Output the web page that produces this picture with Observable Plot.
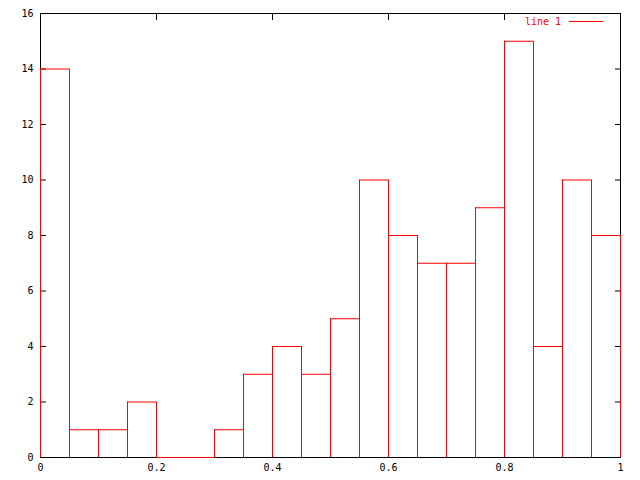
<!DOCTYPE html>
<html>
<head>
<meta charset="utf-8">
<script src="https://cdn.jsdelivr.net/npm/d3@7"></script>
<script src="https://cdn.jsdelivr.net/npm/@observablehq/plot@0.6"></script>
<style>
  html, body { margin: 0; padding: 0; background: #fff; }
  #wrap { position: relative; width: 640px; height: 480px; }
  #legend { position: absolute; left: 525px; top: 16px; font: 10px "DejaVu Sans Mono", monospace; color: #f00; display: flex; align-items: center; }
  #legend span.sample { display: inline-block; width: 34px; height: 0; border-top: 1px solid #f00; margin-left: 8px; }
</style>
</head>
<body>
<div id="wrap"><div id="legend"><span>line 1</span><span class="sample"></span></div></div>
<script>
const binStarts = [0, 0.05, 0.1, 0.15, 0.2, 0.25, 0.3, 0.35, 0.4, 0.45, 0.5, 0.55, 0.6, 0.65, 0.7, 0.75, 0.8, 0.85, 0.9, 0.95];
const binWidth = 0.05;
const counts = [14, 1, 1, 2, 0, 0, 1, 3, 4, 3, 5, 10, 8, 7, 7, 9, 15, 4, 10, 8];
const xTicks = [0, 0.2, 0.4, 0.6, 0.8, 1];
const yTicks = [0, 2, 4, 6, 8, 10, 12, 14, 16];
const seriesName = "line 1";

const bins = binStarts.map((x0, i) => ({x0, x1: x0 + binWidth, y: counts[i]}));

const chart = Plot.plot({
  width: 640,
  height: 480,
  marginLeft: 40,
  marginRight: 20,
  marginTop: 13,
  marginBottom: 23,
  style: {fontFamily: "'DejaVu Sans Mono', monospace", fontSize: "10px", color: "#000", background: "#fff"},
  x: {domain: [0, 1]},
  y: {domain: [0, 16]},
  marks: [
    Plot.frame({stroke: "#000"}),
    Plot.axisX(xTicks, {tickSize: -6, text: null, label: null, stroke: "#000"}),
    Plot.axisX(xTicks, {anchor: "top", tickSize: -6, text: null, label: null, stroke: "#000"}),
    Plot.axisX(xTicks, {tickSize: 0, tickPadding: 6, tickFormat: d => String(d), label: null}),
    Plot.axisY(yTicks, {tickSize: -6, text: null, label: null, stroke: "#000"}),
    Plot.axisY(yTicks, {anchor: "right", tickSize: -6, text: null, label: null, stroke: "#000"}),
    Plot.axisY(yTicks, {tickSize: 0, tickPadding: 7, tickFormat: d => String(d), label: null}),
    Plot.ruleX(bins, {x: "x0", y1: 0, y2: "y", stroke: "#f00"}),
    Plot.ruleX(bins, {x: "x1", y1: 0, y2: "y", stroke: "#f00"}),
    Plot.ruleY(bins, {y: "y", x1: "x0", x2: "x1", stroke: "#f00"})
  ]
});
chart.setAttribute("aria-label", seriesName);
document.getElementById("wrap").prepend(chart);
</script>
</body>
</html>
